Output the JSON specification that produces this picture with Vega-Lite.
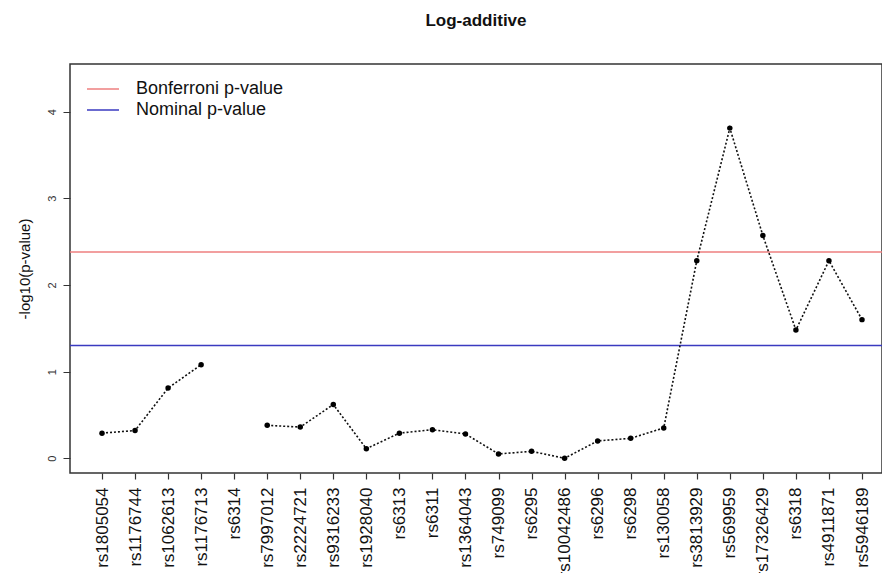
{
  "$schema": "https://vega.github.io/schema/vega-lite/v6.json",
  "autosize": {"type": "none"},
  "padding": {"left": 70, "top": 64, "right": 0, "bottom": 100},
  "width": 812,
  "height": 409,
  "background": "white",
  "title": {"text": "Log-additive", "font": "Liberation Sans", "fontSize": 17, "fontWeight": "bold", "color": "#111", "anchor": "middle", "frame": "group", "offset": 34},
  "config": {
    "view": {"stroke": "#333", "strokeWidth": 1.5},
    "font": "Liberation Sans"
  },
  "datasets": {
    "snps": [
      {"snp": "rs1805054", "logp": 0.29},
      {"snp": "rs1176744", "logp": 0.32},
      {"snp": "rs1062613", "logp": 0.81},
      {"snp": "rs1176713", "logp": 1.08},
      {"snp": "rs6314", "logp": null},
      {"snp": "rs7997012", "logp": 0.38},
      {"snp": "rs2224721", "logp": 0.36},
      {"snp": "rs9316233", "logp": 0.62},
      {"snp": "rs1928040", "logp": 0.11},
      {"snp": "rs6313", "logp": 0.29},
      {"snp": "rs6311", "logp": 0.33},
      {"snp": "rs1364043", "logp": 0.28},
      {"snp": "rs749099", "logp": 0.05},
      {"snp": "rs6295", "logp": 0.08},
      {"snp": "rs10042486", "logp": 0.0},
      {"snp": "rs6296", "logp": 0.2},
      {"snp": "rs6298", "logp": 0.23},
      {"snp": "rs130058", "logp": 0.35},
      {"snp": "rs3813929", "logp": 2.28},
      {"snp": "rs569959", "logp": 3.81},
      {"snp": "rs17326429", "logp": 2.57},
      {"snp": "rs6318", "logp": 1.48},
      {"snp": "rs4911871", "logp": 2.28},
      {"snp": "rs5946189", "logp": 1.6}
    ],
    "thresholds": [
      {"label": "Bonferroni p-value", "value": 2.38},
      {"label": "Nominal p-value", "value": 1.30}
    ]
  },
  "layer": [
    {
      "data": {"name": "thresholds"},
      "mark": {"type": "rule", "strokeWidth": 1.5},
      "encoding": {
        "y": {"field": "value", "type": "quantitative", "scale": {"domain": [-0.17, 4.55], "nice": false, "zero": false}},
        "color": {
          "field": "label", "type": "nominal",
          "scale": {"domain": ["Bonferroni p-value", "Nominal p-value"], "range": ["#ee7f7f", "#3a3ac0"]},
          "legend": {
            "title": null, "orient": "none", "legendX": 22, "legendY": 14,
            "symbolType": "M-1.6,0H1.6", "symbolSize": 400, "symbolStrokeWidth": 1.5,
            "labelFontSize": 18, "labelFont": "Liberation Sans", "labelColor": "#111",
            "labelOffset": 22, "rowPadding": 1, "padding": 0
          }
        }
      }
    },
    {
      "data": {"name": "snps"},
      "mark": {"type": "line", "color": "#111", "strokeWidth": 1.6, "strokeDash": [2, 2], "invalid": "break-paths-show-domains"},
      "encoding": {
        "x": {
          "field": "snp", "type": "ordinal", "sort": null,
          "scale": {"type": "point", "range": [32, 792], "padding": 0},
          "axis": {"title": null, "labelAngle": 270, "labelFontSize": 17, "labelColor": "#111", "labelPadding": 8, "tickSize": 6, "tickColor": "#333", "tickWidth": 1.2, "domain": false, "grid": false}
        },
        "y": {
          "field": "logp", "type": "quantitative",
          "scale": {"domain": [-0.17, 4.55], "nice": false, "zero": false},
          "axis": {"title": "-log10(p-value)", "titleFontSize": 15, "titleFontWeight": "normal", "titleColor": "#111", "titlePadding": 14, "values": [0, 1, 2, 3, 4], "format": "d", "labelAngle": 270, "labelFontSize": 11, "labelColor": "#333", "labelPadding": 6, "tickSize": 7, "tickColor": "#333", "domain": false, "grid": false}
        }
      }
    },
    {
      "data": {"name": "snps"},
      "mark": {"type": "point", "filled": true, "color": "#000", "size": 30, "opacity": 1},
      "encoding": {
        "x": {"field": "snp", "type": "ordinal", "sort": null},
        "y": {"field": "logp", "type": "quantitative"}
      }
    }
  ]
}
